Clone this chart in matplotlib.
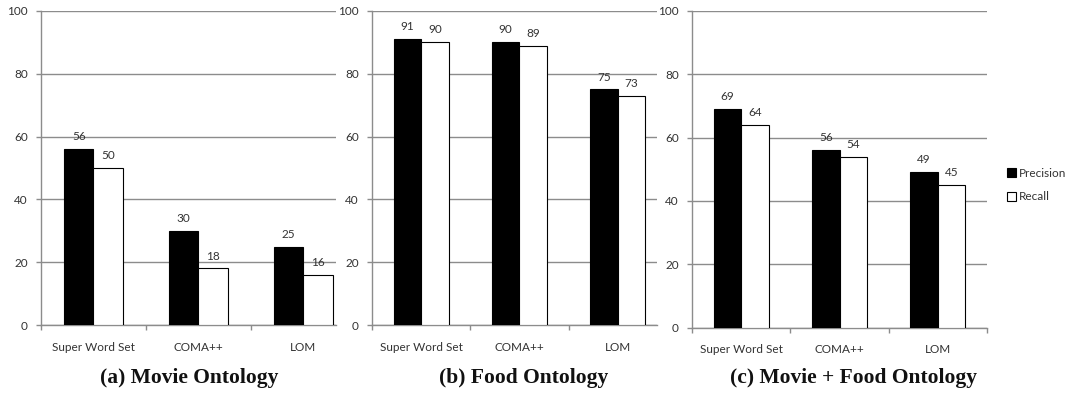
import matplotlib
matplotlib.use("Agg")
import matplotlib.pyplot as plt
from matplotlib.patches import Patch
import numpy as np

categories = ["Super Word Set", "COMA++", "LOM"]
titles = ["(a) Movie Ontology", "(b) Food Ontology", "(c) Movie + Food Ontology"]
precision = [[56, 30, 25], [91, 90, 75], [69, 56, 49]]
recall = [[50, 18, 16], [90, 89, 73], [64, 54, 45]]
yticks = [0, 20, 40, 60, 80, 100]

W, H = 1068, 395
fig = plt.figure(figsize=(W / 100, H / 100), dpi=100)

# pixel geometry: (left, right, zero_y, top_y, xlim_right)
panels = [
    (41, 336, 325, 11, 2.31),
    (372, 657, 325, 11, 2.40),
    (692, 987, 327.5, 11, 2.50),
]
title_x = [189, 524, 853]

tick_font = "Lato"
grid_c = "#8c8c8c"
text_c = "#333333"
bw = 0.28

for i, (l, r, y0, y1, xr) in enumerate(panels):
    ax = fig.add_axes([l / W, (H - y0) / H, (r - l) / W, (y0 - y1) / H])
    x = np.arange(len(categories))
    b1 = ax.bar(x - bw / 2, precision[i], bw, color="black", edgecolor="black", linewidth=0.8, zorder=3)
    b2 = ax.bar(x + bw / 2, recall[i], bw, color="white", edgecolor="black", linewidth=0.8, zorder=3)
    for bars in (b1, b2):
        for rect in bars:
            ax.annotate(f"{rect.get_height():g}",
                        (rect.get_x() + rect.get_width() / 2, rect.get_height()),
                        xytext=(0, 5), textcoords="offset points",
                        ha="center", va="bottom", fontsize=8.5, color=text_c,
                        family=tick_font)
    ax.set_xlim(-0.5, xr)
    ax.set_ylim(0, 100)
    ax.set_yticks(yticks)
    ax.yaxis.grid(True, color=grid_c, linewidth=1.0, zorder=0)
    ax.set_axisbelow(True)
    ax.set_xticks(x)
    ax.set_xticklabels(categories)
    bounds = [b for b in np.arange(-0.5, 3.0, 1.0) if b <= xr + 1e-6]
    ax.set_xticks(bounds, minor=True)
    ax.tick_params(axis="x", which="major", length=0, pad=12, labelsize=8.5, labelcolor=text_c)
    ax.tick_params(axis="x", which="minor", length=3.5, color=grid_c, width=1.0, direction="out")
    ax.tick_params(axis="y", length=3.5, color=grid_c, width=1.0, pad=6, labelsize=8.5, labelcolor=text_c)
    for lab in ax.get_xticklabels() + ax.get_yticklabels():
        lab.set_family(tick_font)
    for s in ("top", "right"):
        ax.spines[s].set_visible(False)
    for s in ("left", "bottom"):
        ax.spines[s].set_color(grid_c)
        ax.spines[s].set_linewidth(1.0)
    fig.text(title_x[i] / W, (H - 378) / H, titles[i], ha="center", va="center",
             fontsize=15.5, fontweight="bold", family="Liberation Serif", color="#111111")

handles = [Patch(facecolor="black", edgecolor="black", linewidth=0.8, label="Precision"),
           Patch(facecolor="white", edgecolor="black", linewidth=0.8, label="Recall")]
leg = fig.legend(handles=handles, loc="center left", bbox_to_anchor=(1007 / W, (H - 185) / H),
                 frameon=False, prop={"family": tick_font, "size": 8.5},
                 handlelength=0.8, handleheight=0.8, handletextpad=0.2, labelspacing=1.1,
                 borderaxespad=0, borderpad=0)
for t in leg.get_texts():
    t.set_color(text_c)

fig.savefig("out.png", dpi=100, facecolor="white")
